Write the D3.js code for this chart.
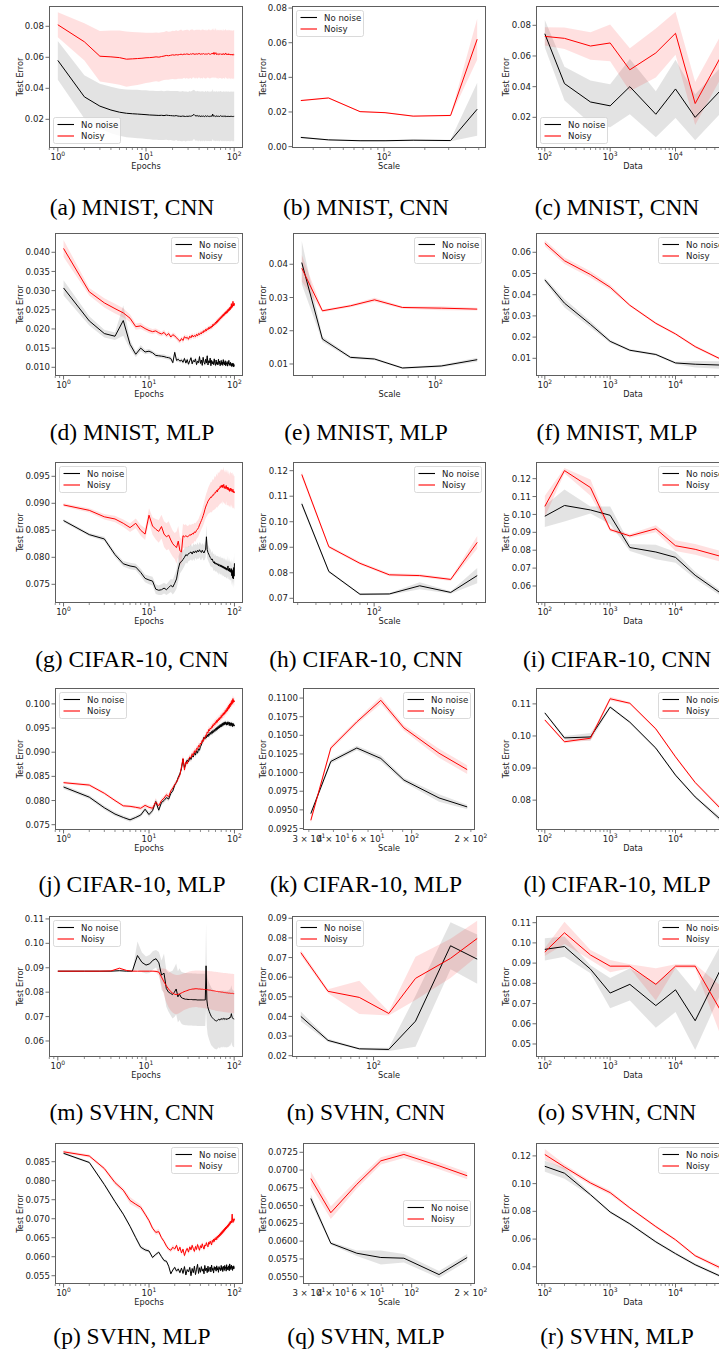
<!DOCTYPE html>
<html><head><meta charset="utf-8">
<script src="https://cdn.jsdelivr.net/npm/d3@7"></script>
<style>body{margin:0;background:#fff}svg{display:block}</style>
</head><body>
<svg id="fig" width="719" height="1357"></svg>
<script>
// ---------- x values ----------
const EPOCHS = d3.range(1, 101);
const DATA_SIZES = [100, 200, 500, 1000, 2000, 5000, 10000, 20000, 50000];
const SCALE_MNIST_CNN = [24.3, 38.9, 66.5, 101.7, 164, 310, 487];
const SCALE_CNN = [32, 49, 80, 127, 205, 334, 507];
const SCALE_CNN_SVHN = [32, 49, 80, 127, 193, 334, 507];
const SCALE_MNIST_MLP = [17.4, 22.8, 32.9, 45.1, 65.0, 108, 173];
const SCALE_MLP = [30.7, 38.8, 52.6, 69.7, 91.3, 137.8, 191.6];

// ---------- (a) MNIST CNN, epochs ----------
const aNoisy = [.0810,.0700,.0607,.0603,.0598,.0588,.0590,.0592,.0594,.0597,
.0598,.0600,.0603,.0601,.0605,.0608,.0612,.0610,.0613,.0616,
.0614,.0617,.0615,.0618,.0620,.0617,.0621,.0619,.0622,.0620,
.0618,.0622,.0620,.0624,.0621,.0619,.0623,.0620,.0622,.0625,
.0621,.0619,.0623,.0621,.0624,.0620,.0622,.0618,.0623,.0621,
.0625,.0620,.0622,.0619,.0624,.0621,.0628,.0620,.0632,.0619,
.0623,.0630,.0618,.0622,.0620,.0617,.0624,.0621,.0619,.0623,
.0618,.0621,.0616,.0620,.0625,.0619,.0621,.0617,.0622,.0628,
.0619,.0621,.0616,.0620,.0618,.0623,.0615,.0619,.0621,.0617,
.0620,.0614,.0618,.0621,.0616,.0619,.0613,.0617,.0620,.0618];
const aNoisyStd = [.0080,.0120,.0163,.0170,.0175,.0178,.0174,.0170,.0166,.0162,
.0160,.0158,.0157,.0158,.0156,.0155,.0157,.0155,.0154,.0156,
.0155,.0158,.0154,.0156,.0159,.0155,.0153,.0157,.0155,.0158,
.0154,.0156,.0160,.0155,.0152,.0157,.0154,.0158,.0155,.0153,
.0157,.0154,.0156,.0159,.0153,.0155,.0158,.0154,.0156,.0152,
.0157,.0155,.0159,.0154,.0156,.0153,.0158,.0155,.0157,.0154,
.0156,.0159,.0153,.0157,.0155,.0158,.0154,.0156,.0153,.0157,
.0155,.0158,.0154,.0156,.0159,.0153,.0157,.0155,.0158,.0154,
.0156,.0153,.0157,.0155,.0159,.0154,.0156,.0158,.0153,.0157,
.0155,.0158,.0154,.0156,.0153,.0157,.0155,.0159,.0154,.0156];
const aClean = [.0580,.0345,.0285,.0260,.0246,.0239,.0236,.0234,.0232,.0230,
.0228,.0227,.0226,.0225,.0226,.0224,.0227,.0225,.0224,.0223,
.0222,.0224,.0221,.0220,.0219,.0221,.0220,.0218,.0220,.0219,
.0221,.0220,.0222,.0226,.0232,.0224,.0221,.0225,.0219,.0223,
.0220,.0218,.0222,.0219,.0221,.0217,.0223,.0220,.0218,.0222,
.0219,.0221,.0217,.0220,.0222,.0218,.0234,.0221,.0219,.0222,
.0218,.0220,.0223,.0217,.0221,.0219,.0222,.0218,.0220,.0224,
.0219,.0221,.0217,.0220,.0223,.0218,.0221,.0219,.0216,.0222,
.0220,.0218,.0221,.0217,.0222,.0219,.0220,.0216,.0221,.0218,
.0220,.0217,.0222,.0219,.0218,.0221,.0217,.0220,.0218,.0219];
const aCleanStd = [.0125,.0140,.0145,.0150,.0152,.0154,.0155,.0156,.0156,.0157,
.0157,.0158,.0157,.0158,.0159,.0157,.0158,.0160,.0158,.0159,
.0160,.0158,.0161,.0159,.0160,.0162,.0159,.0161,.0160,.0158,
.0161,.0159,.0160,.0162,.0158,.0161,.0159,.0160,.0162,.0158,
.0160,.0161,.0159,.0162,.0158,.0160,.0161,.0159,.0160,.0162,
.0159,.0161,.0158,.0160,.0162,.0159,.0161,.0160,.0158,.0161,
.0160,.0159,.0162,.0158,.0160,.0161,.0159,.0160,.0162,.0158,
.0161,.0159,.0160,.0158,.0162,.0160,.0159,.0161,.0158,.0160,
.0159,.0161,.0160,.0158,.0162,.0159,.0160,.0161,.0158,.0160,
.0161,.0159,.0160,.0158,.0161,.0159,.0160,.0162,.0158,.0160];

// ---------- (b) MNIST CNN, scale ----------
const bClean = [.0053,.0039,.0034,.0034,.0037,.0035,.0216];
const bCleanStd = [.0005,.0004,.0004,.0004,.0004,.0004,.0153];
const bNoisy = [.0266,.0281,.0202,.0196,.0176,.0180,.0620];
const bNoisyStd = [.0004,.0004,.0004,.0004,.0004,.0004,.0118];

// ---------- (c) MNIST CNN, data ----------
const cClean = [.0745,.0420,.0300,.0275,.0400,.0220,.0385,.0200,.0380];
const cCleanStd = [.0090,.0110,.0140,.0140,.0180,.0150,.0190,.0150,.0150];
const cNoisy = [.0728,.0715,.0665,.0685,.0510,.0620,.0748,.0290,.0600];
const cNoisyStd = [.0060,.0070,.0090,.0120,.0140,.0160,.0140,.0140,.0140];

// ---------- (d) MNIST MLP, epochs ----------
const dNoisy = [.0410,.0297,.0268,.0253,.0242,.0228,.0206,.0208,.0201,.0196,
.0193,.0195,.0190,.0187,.0191,.0183,.0188,.0179,.0185,.0182,
.0177,.0172,.0168,.0175,.0170,.0180,.0176,.0178,.0173,.0181,
.0177,.0184,.0179,.0183,.0180,.0186,.0182,.0188,.0185,.0190,
.0187,.0193,.0190,.0196,.0193,.0199,.0195,.0201,.0198,.0204,
.0200,.0206,.0202,.0208,.0205,.0212,.0208,.0214,.0211,.0218,
.0214,.0221,.0217,.0224,.0220,.0227,.0223,.0230,.0226,.0233,
.0229,.0236,.0232,.0239,.0234,.0241,.0237,.0244,.0239,.0246,
.0241,.0248,.0243,.0251,.0246,.0253,.0248,.0256,.0250,.0258,
.0253,.0266,.0255,.0262,.0258,.0272,.0260,.0266,.0261,.0267];
const dNoisyStd = [.0022,.0010,.0012,.0013,.0012,.0010,.0008,.0008,.0007,.0007,
.0007,.0006,.0007,.0006,.0007,.0006,.0007,.0006,.0006,.0007,
.0006,.0007,.0006,.0006,.0007,.0006,.0006,.0007,.0006,.0006,
.0007,.0006,.0006,.0007,.0006,.0006,.0007,.0006,.0006,.0007,
.0006,.0006,.0007,.0006,.0006,.0007,.0006,.0006,.0007,.0006,
.0006,.0007,.0006,.0006,.0007,.0006,.0006,.0007,.0006,.0006,
.0007,.0006,.0006,.0007,.0006,.0006,.0007,.0006,.0006,.0007,
.0006,.0006,.0007,.0006,.0006,.0007,.0006,.0006,.0007,.0006,
.0006,.0007,.0006,.0006,.0007,.0006,.0006,.0007,.0006,.0006,
.0007,.0006,.0006,.0007,.0006,.0006,.0007,.0006,.0006,.0007];
const dClean = [.0307,.0221,.0188,.0181,.0222,.0160,.0134,.0150,.0140,.0142,
.0138,.0131,.0130,.0129,.0128,.0126,.0125,.0123,.0112,.0139,
.0118,.0121,.0116,.0119,.0113,.0123,.0111,.0120,.0108,.0117,
.0125,.0109,.0118,.0114,.0122,.0107,.0116,.0112,.0128,.0110,
.0119,.0105,.0126,.0113,.0108,.0121,.0111,.0130,.0106,.0117,
.0112,.0124,.0104,.0118,.0109,.0115,.0107,.0122,.0110,.0105,
.0119,.0108,.0113,.0106,.0121,.0109,.0116,.0104,.0112,.0118,
.0107,.0114,.0105,.0120,.0109,.0113,.0106,.0117,.0104,.0111,
.0108,.0115,.0103,.0112,.0109,.0118,.0105,.0110,.0107,.0113,
.0104,.0109,.0102,.0111,.0106,.0103,.0110,.0101,.0107,.0105];
const dCleanStd = [.0020,.0012,.0010,.0010,.0040,.0012,.0008,.0008,.0006,.0006,
.0005,.0006,.0005,.0005,.0006,.0005,.0005,.0006,.0005,.0007,
.0005,.0006,.0005,.0005,.0006,.0005,.0005,.0006,.0005,.0005,
.0006,.0005,.0005,.0006,.0005,.0005,.0006,.0005,.0007,.0005,
.0006,.0005,.0005,.0006,.0005,.0005,.0006,.0007,.0005,.0005,
.0006,.0005,.0005,.0006,.0005,.0005,.0006,.0005,.0005,.0006,
.0005,.0005,.0006,.0005,.0007,.0005,.0006,.0005,.0005,.0006,
.0005,.0005,.0006,.0005,.0005,.0006,.0005,.0005,.0006,.0005,
.0005,.0006,.0005,.0005,.0006,.0005,.0005,.0006,.0005,.0005,
.0006,.0005,.0005,.0006,.0005,.0005,.0006,.0005,.0005,.0006];

// ---------- (e) MNIST MLP, scale ----------
const eClean = [.0405,.0175,.0120,.0115,.0088,.0094,.0113];
const eCleanStd = [.0065,.0008,.0004,.0004,.0003,.0004,.0006];
const eNoisy = [.0388,.0260,.0275,.0293,.0270,.0268,.0265];
const eNoisyStd = [.0040,.0004,.0004,.0006,.0004,.0006,.0004];

// ---------- (f) MNIST MLP, data ----------
const fClean = [.0470,.0360,.0260,.0180,.0138,.0118,.0078,.0072,.0068];
const fCleanStd = [.0010,.0020,.0015,.0008,.0006,.0006,.0006,.0015,.0018];
const fNoisy = [.0643,.0560,.0495,.0435,.0350,.0265,.0215,.0155,.0095];
const fNoisyStd = [.0015,.0015,.0015,.0012,.0006,.0006,.0006,.0006,.0006];

// ---------- (g) CIFAR-10 CNN, epochs ----------
const gNoisy = [.0897,.0887,.0875,.0871,.0863,.0855,.0863,.0850,.0843,.0878,
.0858,.0852,.0848,.0857,.0843,.0838,.0841,.0832,.0825,.0821,
.0818,.0830,.0812,.0810,.0840,.0838,.0840,.0838,.0839,.0842,
.0841,.0844,.0843,.0847,.0846,.0850,.0852,.0855,.0860,.0864,
.0868,.0872,.0877,.0882,.0888,.0893,.0897,.0900,.0904,.0906,
.0908,.0910,.0912,.0911,.0914,.0916,.0915,.0918,.0920,.0919,
.0922,.0924,.0921,.0926,.0925,.0928,.0927,.0931,.0929,.0933,
.0930,.0934,.0929,.0932,.0935,.0928,.0931,.0927,.0930,.0933,
.0928,.0926,.0930,.0925,.0929,.0924,.0927,.0922,.0926,.0928,
.0923,.0927,.0925,.0921,.0924,.0926,.0920,.0923,.0921,.0919];
const gNoisyStd = [.0003,.0004,.0005,.0006,.0007,.0008,.0009,.0010,.0011,.0013,
.0016,.0019,.0021,.0022,.0024,.0025,.0026,.0025,.0024,.0024,
.0030,.0028,.0025,.0024,.0022,.0022,.0021,.0020,.0020,.0019,
.0019,.0018,.0018,.0017,.0017,.0016,.0016,.0016,.0016,.0016,
.0016,.0017,.0018,.0019,.0020,.0021,.0022,.0023,.0024,.0025,
.0026,.0027,.0028,.0028,.0029,.0029,.0028,.0030,.0031,.0029,
.0030,.0031,.0029,.0032,.0030,.0031,.0029,.0032,.0030,.0031,
.0031,.0029,.0032,.0030,.0033,.0029,.0031,.0030,.0032,.0029,
.0031,.0030,.0033,.0029,.0032,.0030,.0031,.0029,.0033,.0030,
.0032,.0029,.0031,.0030,.0033,.0031,.0029,.0032,.0030,.0031];
const gClean = [.0868,.0842,.0834,.0805,.0788,.0784,.0782,.0772,.0761,.0758,
.0756,.0741,.0739,.0740,.0743,.0740,.0744,.0748,.0745,.0752,
.0760,.0778,.0790,.0792,.0796,.0800,.0805,.0803,.0807,.0808,
.0810,.0806,.0811,.0808,.0812,.0809,.0813,.0810,.0814,.0811,
.0809,.0813,.0810,.0808,.0812,.0815,.0838,.0814,.0809,.0806,
.0803,.0800,.0798,.0795,.0797,.0793,.0790,.0792,.0788,.0790,
.0787,.0789,.0786,.0788,.0784,.0787,.0785,.0783,.0786,.0782,
.0785,.0781,.0784,.0780,.0783,.0779,.0782,.0778,.0781,.0777,
.0780,.0776,.0779,.0784,.0775,.0778,.0774,.0780,.0773,.0777,
.0772,.0779,.0766,.0775,.0762,.0777,.0760,.0781,.0765,.0789];
const gCleanStd = [.0003,.0003,.0004,.0005,.0005,.0006,.0006,.0007,.0007,.0008,
.0008,.0009,.0009,.0010,.0010,.0010,.0011,.0012,.0014,.0016,
.0018,.0022,.0020,.0018,.0017,.0016,.0015,.0015,.0014,.0014,
.0014,.0013,.0014,.0015,.0013,.0014,.0015,.0013,.0014,.0016,
.0014,.0013,.0015,.0014,.0016,.0015,.0022,.0016,.0014,.0015,
.0014,.0016,.0015,.0013,.0015,.0014,.0016,.0015,.0014,.0016,
.0015,.0014,.0016,.0015,.0017,.0014,.0016,.0015,.0017,.0016,
.0015,.0017,.0016,.0015,.0017,.0016,.0018,.0015,.0017,.0016,
.0018,.0016,.0017,.0019,.0016,.0018,.0017,.0019,.0016,.0018,
.0017,.0019,.0018,.0020,.0017,.0019,.0018,.0021,.0019,.0022];

// ---------- (h) CIFAR-10 CNN, scale ----------
const hClean = [.1070,.0805,.0716,.0717,.0749,.0723,.0789];
const hCleanStd = [.0010,.0005,.0004,.0004,.0014,.0005,.0030];
const hNoisy = [.1185,.0902,.0837,.0792,.0789,.0774,.0919];
const hNoisyStd = [.0012,.0006,.0006,.0006,.0006,.0006,.0025];

// ---------- (i) CIFAR-10 CNN, data ----------
const iClean = [.0990,.1050,.1025,.0995,.0815,.0790,.0760,.0660,.0558];
const iCleanStd = [.0060,.0090,.0020,.0050,.0020,.0040,.0030,.0020,.0015];
const iNoisy = [.1045,.1245,.1150,.0915,.0880,.0920,.0825,.0805,.0765];
const iNoisyStd = [.0060,.0015,.0045,.0010,.0010,.0020,.0030,.0030,.0030];

// ---------- (j) CIFAR-10 MLP, epochs ----------
const jNoisy = [.0837,.0832,.0815,.0800,.0789,.0788,.0786,.0784,.0790,.0786,
.0784,.0797,.0789,.0800,.0805,.0812,.0808,.0820,.0826,.0833,
.0838,.0846,.0853,.0870,.0887,.0863,.0880,.0876,.0885,.0890,
.0888,.0897,.0893,.0903,.0899,.0908,.0906,.0914,.0911,.0919,
.0917,.0925,.0922,.0930,.0928,.0935,.0934,.0942,.0940,.0947,
.0944,.0950,.0948,.0953,.0951,.0957,.0954,.0960,.0957,.0963,
.0960,.0966,.0962,.0968,.0965,.0971,.0967,.0973,.0970,.0976,
.0972,.0978,.0975,.0981,.0977,.0983,.0979,.0986,.0982,.0988,
.0984,.0991,.0986,.0994,.0989,.0997,.0991,.1000,.0994,.1002,
.0997,.1005,.0999,.1008,.1001,.1011,.1003,.1008,.1004,.1006];
const jNoisyStd = [.0003,.0003,.0003,.0003,.0003,.0003,.0003,.0004,.0004,.0004,
.0005,.0008,.0005,.0006,.0005,.0005,.0006,.0005,.0005,.0006,
.0005,.0006,.0006,.0005,.0008,.0006,.0006,.0005,.0006,.0006,
.0006,.0007,.0006,.0006,.0007,.0006,.0007,.0006,.0007,.0006,
.0007,.0006,.0007,.0007,.0006,.0007,.0007,.0006,.0007,.0007,
.0007,.0006,.0007,.0007,.0008,.0007,.0007,.0008,.0007,.0007,
.0008,.0007,.0007,.0008,.0007,.0008,.0007,.0008,.0008,.0007,
.0008,.0007,.0008,.0008,.0007,.0008,.0008,.0007,.0008,.0008,
.0008,.0007,.0008,.0009,.0008,.0008,.0007,.0009,.0008,.0008,
.0009,.0008,.0008,.0009,.0008,.0009,.0008,.0009,.0008,.0009];
const jClean = [.0828,.0807,.0785,.0772,.0765,.0760,.0765,.0770,.0782,.0771,
.0779,.0798,.0780,.0796,.0800,.0806,.0803,.0815,.0820,.0832,
.0838,.0848,.0855,.0866,.0886,.0868,.0876,.0884,.0880,.0889,
.0885,.0893,.0890,.0899,.0894,.0903,.0898,.0907,.0904,.0912,
.0915,.0922,.0926,.0931,.0927,.0933,.0930,.0936,.0932,.0938,
.0935,.0941,.0937,.0943,.0939,.0945,.0941,.0947,.0943,.0949,
.0945,.0951,.0947,.0953,.0949,.0955,.0950,.0957,.0952,.0958,
.0953,.0960,.0955,.0961,.0956,.0962,.0957,.0963,.0958,.0961,
.0956,.0962,.0957,.0963,.0958,.0961,.0955,.0962,.0957,.0960,
.0954,.0961,.0956,.0959,.0953,.0960,.0955,.0958,.0954,.0956];
const jCleanStd = [.0004,.0004,.0004,.0004,.0004,.0004,.0004,.0004,.0005,.0005,
.0005,.0005,.0005,.0005,.0005,.0005,.0005,.0005,.0005,.0005,
.0004,.0005,.0006,.0005,.0004,.0005,.0006,.0005,.0004,.0005,
.0006,.0005,.0004,.0005,.0006,.0005,.0004,.0005,.0006,.0005,
.0004,.0005,.0006,.0005,.0004,.0005,.0006,.0005,.0004,.0005,
.0006,.0005,.0004,.0005,.0006,.0005,.0004,.0005,.0006,.0005,
.0004,.0005,.0006,.0005,.0004,.0005,.0006,.0005,.0004,.0005,
.0006,.0005,.0004,.0005,.0006,.0005,.0004,.0005,.0006,.0005,
.0004,.0005,.0006,.0005,.0004,.0005,.0006,.0005,.0004,.0005,
.0006,.0005,.0004,.0005,.0006,.0005,.0004,.0005,.0006,.0005];

// ---------- (k) CIFAR-10 MLP, scale ----------
const kClean = [.0945,.1015,.1033,.1019,.0990,.0966,.0954];
const kCleanStd = [.0003,.0003,.0003,.0004,.0003,.0005,.0003];
const kNoisy = [.0936,.1033,.1068,.1097,.1060,.1026,.1004];
const kNoisyStd = [.0004,.0003,.0003,.0005,.0004,.0006,.0006];

// ---------- (l) CIFAR-10 MLP, data ----------
const lClean = [.1072,.0994,.0997,.1090,.1043,.0962,.0878,.0810,.0738];
const lCleanStd = [.0003,.0006,.0012,.0004,.0004,.0004,.0004,.0004,.0008];
const lNoisy = [.1050,.0982,.0993,.1116,.1102,.1022,.0935,.0855,.0772];
const lNoisyStd = [.0003,.0005,.0006,.0006,.0004,.0004,.0004,.0004,.0006];

// ---------- (m) SVHN CNN, epochs ----------
const mNoisy = [.0886,.0886,.0886,.0887,.0898,.0889,.0886,.0886,.0886,.0886,
.0886,.0886,.0885,.0882,.0862,.0842,.0826,.0813,.0803,.0796,
.0792,.0790,.0791,.0793,.0796,.0799,.0802,.0804,.0806,.0808,
.0810,.0811,.0812,.0813,.0813,.0814,.0814,.0814,.0813,.0813,
.0813,.0812,.0812,.0812,.0811,.0811,.0811,.0810,.0810,.0810,
.0809,.0809,.0808,.0808,.0807,.0807,.0806,.0806,.0805,.0805,
.0804,.0804,.0803,.0803,.0803,.0802,.0802,.0802,.0801,.0801,
.0801,.0800,.0800,.0800,.0799,.0799,.0799,.0798,.0798,.0798,
.0798,.0797,.0797,.0797,.0797,.0796,.0796,.0796,.0796,.0796,
.0795,.0795,.0795,.0795,.0795,.0795,.0794,.0794,.0794,.0794];
const mNoisyStd = [.0002,.0002,.0002,.0002,.0004,.0003,.0002,.0002,.0002,.0002,
.0002,.0002,.0005,.0015,.0035,.0055,.0068,.0075,.0078,.0079,
.0080,.0080,.0079,.0078,.0077,.0076,.0075,.0075,.0075,.0075,
.0075,.0075,.0075,.0075,.0075,.0075,.0075,.0075,.0076,.0076,
.0076,.0076,.0076,.0077,.0077,.0077,.0077,.0077,.0078,.0078,
.0078,.0078,.0078,.0078,.0079,.0079,.0079,.0079,.0079,.0079,
.0080,.0080,.0080,.0080,.0080,.0080,.0080,.0080,.0080,.0080,
.0080,.0080,.0080,.0080,.0080,.0080,.0080,.0080,.0080,.0080,
.0080,.0080,.0080,.0080,.0080,.0080,.0080,.0080,.0080,.0080,
.0080,.0080,.0080,.0080,.0080,.0080,.0080,.0080,.0080,.0080];
const mClean = [.0886,.0886,.0886,.0886,.0888,.0886,.0886,.0950,.0922,.0911,
.0916,.0931,.0937,.0920,.0870,.0878,.0815,.0800,.0795,.0790,
.0800,.0813,.0781,.0792,.0779,.0775,.0773,.0771,.0771,.0770,
.0770,.0770,.0770,.0769,.0769,.0769,.0769,.0768,.0768,.0768,
.0768,.0768,.0768,.0768,.0768,.0768,.0768,.0908,.0768,.0742,
.0731,.0722,.0714,.0707,.0701,.0697,.0694,.0691,.0688,.0686,
.0684,.0683,.0682,.0683,.0685,.0688,.0690,.0687,.0685,.0689,
.0692,.0690,.0688,.0691,.0693,.0690,.0688,.0692,.0689,.0691,
.0690,.0688,.0692,.0689,.0691,.0693,.0690,.0694,.0697,.0695,
.0700,.0705,.0712,.0702,.0697,.0694,.0692,.0690,.0691,.0690];
const mCleanStd = [.0001,.0001,.0001,.0001,.0003,.0001,.0001,.0058,.0040,.0035,
.0037,.0038,.0036,.0045,.0060,.0080,.0075,.0080,.0090,.0098,
.0102,.0104,.0105,.0106,.0106,.0107,.0107,.0107,.0107,.0107,
.0107,.0107,.0107,.0107,.0107,.0107,.0107,.0107,.0107,.0107,
.0107,.0107,.0107,.0107,.0107,.0107,.0107,.0175,.0112,.0115,
.0116,.0117,.0117,.0118,.0118,.0118,.0118,.0118,.0118,.0118,
.0117,.0117,.0117,.0116,.0116,.0116,.0116,.0116,.0116,.0116,
.0116,.0116,.0116,.0116,.0116,.0116,.0116,.0116,.0116,.0116,
.0116,.0116,.0116,.0116,.0116,.0116,.0116,.0116,.0116,.0116,
.0116,.0116,.0116,.0116,.0116,.0116,.0116,.0116,.0116,.0116];

// ---------- (n) SVHN CNN, scale ----------
const nClean = [.0400,.0278,.0235,.0232,.0376,.0760,.0692];
const nCleanStd = [.0025,.0008,.0005,.0008,.0130,.0120,.0125];
const nNoisy = [.0725,.0528,.0497,.0415,.0594,.0696,.0797];
const nNoisyStd = [.0015,.0010,.0085,.0010,.0110,.0100,.0090];

// ---------- (o) SVHN CNN, data ----------
const oClean = [.0968,.0982,.0870,.0752,.0795,.0690,.0768,.0615,.0875];
const oCleanStd = [.0055,.0050,.0020,.0075,.0080,.0110,.0110,.0145,.0120];
const oNoisy = [.0955,.1050,.0940,.0885,.0885,.0795,.0885,.0885,.0660];
const oNoisyStd = [.0020,.0055,.0025,.0030,.0010,.0080,.0010,.0010,.0125];

// ---------- (p) SVHN MLP, epochs ----------
const pNoisy = [.0876,.0865,.0832,.0795,.0775,.0748,.0738,.0730,.0712,.0695,
.0675,.0664,.0666,.0650,.0640,.0628,.0620,.0617,.0625,.0620,
.0630,.0615,.0625,.0610,.0620,.0603,.0615,.0622,.0612,.0626,
.0618,.0630,.0621,.0614,.0627,.0619,.0632,.0624,.0617,.0629,
.0623,.0634,.0626,.0620,.0631,.0628,.0637,.0630,.0626,.0638,
.0633,.0641,.0636,.0631,.0643,.0638,.0646,.0640,.0648,.0644,
.0651,.0645,.0654,.0649,.0657,.0652,.0660,.0655,.0663,.0658,
.0666,.0661,.0669,.0664,.0672,.0667,.0675,.0670,.0678,.0673,
.0680,.0676,.0683,.0678,.0686,.0681,.0689,.0684,.0692,.0687,
.0694,.0689,.0697,.0712,.0695,.0690,.0698,.0693,.0700,.0696];
const pNoisyStd = [.0004,.0004,.0005,.0006,.0006,.0009,.0008,.0007,.0006,.0006,
.0005,.0006,.0007,.0005,.0006,.0006,.0005,.0006,.0007,.0005,
.0006,.0005,.0007,.0006,.0005,.0006,.0007,.0005,.0006,.0005,
.0007,.0006,.0005,.0006,.0007,.0005,.0006,.0006,.0007,.0005,
.0006,.0007,.0005,.0006,.0006,.0007,.0005,.0006,.0007,.0006,
.0005,.0006,.0007,.0006,.0005,.0007,.0006,.0006,.0007,.0005,
.0006,.0007,.0006,.0005,.0007,.0006,.0006,.0007,.0005,.0006,
.0007,.0006,.0006,.0007,.0005,.0006,.0007,.0006,.0006,.0007,
.0005,.0006,.0007,.0006,.0006,.0007,.0006,.0005,.0007,.0006,
.0006,.0007,.0006,.0008,.0007,.0006,.0007,.0006,.0007,.0006];
const pClean = [.0872,.0848,.0790,.0745,.0712,.0680,.0650,.0625,.0618,.0615,
.0598,.0606,.0612,.0600,.0590,.0588,.0575,.0555,.0565,.0572,
.0562,.0568,.0558,.0570,.0556,.0574,.0552,.0566,.0560,.0572,
.0550,.0569,.0558,.0575,.0553,.0567,.0580,.0556,.0571,.0559,
.0574,.0562,.0568,.0555,.0577,.0563,.0570,.0558,.0575,.0561,
.0567,.0573,.0560,.0578,.0564,.0570,.0557,.0574,.0566,.0572,
.0562,.0576,.0565,.0571,.0559,.0574,.0567,.0570,.0563,.0577,
.0566,.0572,.0561,.0575,.0568,.0564,.0577,.0569,.0573,.0562,
.0579,.0567,.0572,.0565,.0576,.0570,.0563,.0581,.0568,.0574,
.0566,.0578,.0570,.0575,.0564,.0572,.0568,.0576,.0569,.0571];
const pCleanStd = [.0003,.0003,.0004,.0004,.0004,.0004,.0005,.0005,.0005,.0004,
.0004,.0004,.0004,.0004,.0004,.0004,.0004,.0004,.0004,.0004,
.0004,.0005,.0004,.0003,.0004,.0005,.0004,.0004,.0003,.0004,
.0005,.0004,.0004,.0003,.0004,.0005,.0004,.0004,.0003,.0004,
.0005,.0004,.0004,.0003,.0004,.0005,.0004,.0004,.0003,.0004,
.0005,.0004,.0004,.0003,.0004,.0005,.0004,.0004,.0003,.0004,
.0005,.0004,.0004,.0003,.0004,.0005,.0004,.0004,.0003,.0004,
.0005,.0004,.0004,.0003,.0004,.0005,.0004,.0004,.0003,.0004,
.0005,.0004,.0004,.0003,.0004,.0005,.0004,.0004,.0003,.0004,
.0005,.0004,.0004,.0003,.0004,.0005,.0004,.0004,.0003,.0004];

// ---------- (q) SVHN MLP, scale ----------
const qClean = [.0660,.0597,.0583,.0577,.0576,.0553,.0577];
const qCleanStd = [.0006,.0002,.0004,.0010,.0006,.0005,.0005];
const qNoisy = [.0688,.0640,.0680,.0713,.0722,.0706,.0692];
const qNoisyStd = [.0010,.0009,.0006,.0005,.0005,.0005,.0005];

// ---------- (r) SVHN MLP, data ----------
const rClean = [.1125,.1075,.0920,.0795,.0710,.0580,.0495,.0415,.0330];
const rCleanStd = [.0040,.0040,.0010,.0010,.0010,.0010,.0010,.0010,.0010];
const rNoisy = [.1210,.1120,.1005,.0935,.0825,.0690,.0595,.0480,.0390];
const rNoisyStd = [.0040,.0020,.0015,.0015,.0010,.0010,.0010,.0010,.0015];

// ---------- y tick values ----------
const T_A = [.02,.04,.06,.08], T_B = [0,.02,.04,.06,.08], T_C = [.02,.04,.06,.08];
const T_D = [.010,.015,.020,.025,.030,.035,.040], T_E = [.01,.02,.03,.04], T_F = [.01,.02,.03,.04,.05,.06];
const T_G = [.075,.080,.085,.090,.095], T_H = [.07,.08,.09,.10,.11,.12], T_I = [.06,.07,.08,.09,.10,.11,.12];
const T_J = [.075,.080,.085,.090,.095,.100], T_K = [.0925,.0950,.0975,.1000,.1025,.1050,.1075,.1100], T_L = [.08,.09,.10,.11];
const T_M = [.06,.07,.08,.09,.10,.11], T_N = [.02,.03,.04,.05,.06,.07,.08,.09], T_O = [.05,.06,.07,.08,.09,.10,.11];
const T_P = [.055,.060,.065,.070,.075,.080,.085], T_Q = [.0550,.0575,.0600,.0625,.0650,.0675,.0700,.0725], T_R = [.04,.06,.08,.10,.12];

const LEGEND_LABELS = ["No noise", "Noisy"];

// ---------- panel grid ----------
const ROW_TOP = [6, 233, 462, 688, 916, 1143];
const ROW_BOTTOM = [148, 376, 603, 830, 1057, 1284];
const COL_LEFT = [[49,292,536],[55,293,536],[55,293,536],[55,303,536],[49,292,536],[55,303,536]];
const COL_RIGHT = [[243,486,730],[243,486,730],[243,486,730],[243,475,730],[243,486,730],[243,475,730]];
const YLABEL_X = [20, 263, 506];
const CAPTION_X = [132, 366, 617];
const CAPTION_Y = [215, 440, 667, 892, 1120, 1344];

const panels = [
  {cap:"(a) MNIST, CNN", xl:"Epochs", xs:EPOCHS, c:aClean, cs:aCleanStd, n:aNoisy, ns:aNoisyStd, yd:[.0015,.0931], yt:T_A, dg:2, lg:"ll"},
  {cap:"(b) MNIST, CNN", xl:"Scale", xs:SCALE_MNIST_CNN, c:bClean, cs:bCleanStd, n:bNoisy, ns:bNoisyStd, yd:[-.0008,.0812], yt:T_B, dg:2, lg:"ul"},
  {cap:"(c) MNIST, CNN", xl:"Data", xs:DATA_SIZES, c:cClean, cs:cCleanStd, n:cNoisy, ns:cNoisyStd, yd:[0,.0926], yt:T_C, dg:2, lg:"ll"},
  {cap:"(d) MNIST, MLP", xl:"Epochs", xs:EPOCHS, c:dClean, cs:dCleanStd, n:dNoisy, ns:dNoisyStd, yd:[.00773,.04503], yt:T_D, dg:3, lg:"ur"},
  {cap:"(e) MNIST, MLP", xl:"Scale", xs:SCALE_MNIST_MLP, c:eClean, cs:eCleanStd, n:eNoisy, ns:eNoisyStd, yd:[.00639,.0494], yt:T_E, dg:2, lg:"ur"},
  {cap:"(f) MNIST, MLP", xl:"Data", xs:DATA_SIZES, c:fClean, cs:fCleanStd, n:fNoisy, ns:fNoisyStd, yd:[.00165,.0691], yt:T_F, dg:2, lg:"ur"},
  {cap:"(g) CIFAR-10, CNN", xl:"Epochs", xs:EPOCHS, c:gClean, cs:gCleanStd, n:gNoisy, ns:gNoisyStd, yd:[.07154,.09765], yt:T_G, dg:3, lg:"ul"},
  {cap:"(h) CIFAR-10, CNN", xl:"Scale", xs:SCALE_CNN, c:hClean, cs:hCleanStd, n:hNoisy, ns:hNoisyStd, yd:[.06816,.1234], yt:T_H, dg:2, lg:"ur"},
  {cap:"(i) CIFAR-10, CNN", xl:"Data", xs:DATA_SIZES, c:iClean, cs:iCleanStd, n:iNoisy, ns:iNoisyStd, yd:[.0505,.1293], yt:T_I, dg:2, lg:"ur"},
  {cap:"(j) CIFAR-10, MLP", xl:"Epochs", xs:EPOCHS, c:jClean, cs:jCleanStd, n:jNoisy, ns:jNoisyStd, yd:[.0739,.10329], yt:T_J, dg:3, lg:"ul"},
  {cap:"(k) CIFAR-10, MLP", xl:"Scale", xs:SCALE_MLP, c:kClean, cs:kCleanStd, n:kNoisy, ns:kNoisyStd, yd:[.0923,.11135], yt:T_K, dg:4, lg:"ur", minorLabels:[2,3,4,6]},
  {cap:"(l) CIFAR-10, MLP", xl:"Data", xs:DATA_SIZES, c:lClean, cs:lCleanStd, n:lNoisy, ns:lNoisyStd, yd:[.0707,.11495], yt:T_L, dg:2, lg:"ur"},
  {cap:"(m) SVHN, CNN", xl:"Epochs", xs:EPOCHS, c:mClean, cs:mCleanStd, n:mNoisy, ns:mNoisyStd, yd:[.05344,.1112], yt:T_M, dg:2, lg:"ul"},
  {cap:"(n) SVHN, CNN", xl:"Scale", xs:SCALE_CNN_SVHN, c:nClean, cs:nCleanStd, n:nNoisy, ns:nNoisyStd, yd:[.01934,.09117], yt:T_N, dg:2, lg:"ul"},
  {cap:"(o) SVHN, CNN", xl:"Data", xs:DATA_SIZES, c:oClean, cs:oCleanStd, n:oNoisy, ns:oNoisyStd, yd:[.04357,.1133], yt:T_O, dg:2, lg:"ur"},
  {cap:"(p) SVHN, MLP", xl:"Epochs", xs:EPOCHS, c:pClean, cs:pCleanStd, n:pNoisy, ns:pNoisyStd, yd:[.05282,.08992], yt:T_P, dg:3, lg:"ur"},
  {cap:"(q) SVHN, MLP", xl:"Scale", xs:SCALE_MLP, c:qClean, cs:qCleanStd, n:qNoisy, ns:qNoisyStd, yd:[.05397,.07381], yt:T_Q, dg:4, lg:"cr", minorLabels:[2,3,4,6]},
  {cap:"(r) SVHN, MLP", xl:"Data", xs:DATA_SIZES, c:rClean, cs:rCleanStd, n:rNoisy, ns:rNoisyStd, yd:[.0276,.1293], yt:T_R, dg:2, lg:"ur"}
];

const FONT = "DejaVu Sans, Verdana, sans-serif";
const SPINE = "#5e5e5e";
const TXT = "#222";
const TICK_FS = 8.6;
const svg = d3.select("#fig");

// log-axis domain padded by 5% of the data span on each side
function paddedLogDomain(xs) {
  const lo = Math.log10(d3.min(xs)), hi = Math.log10(d3.max(xs)), pad = (hi - lo) * 0.05;
  return [Math.pow(10, lo - pad), Math.pow(10, hi + pad)];
}

function logTicks(domain) {
  const out = [];
  for (let k = Math.floor(Math.log10(domain[0])); k <= Math.ceil(Math.log10(domain[1])); k++) {
    for (let m = 1; m <= 9; m++) {
      const v = m * Math.pow(10, k);
      if (v >= domain[0] && v <= domain[1]) out.push({v, m, k});
    }
  }
  return out;
}

function sciLabel(sel, m, k, fs) {
  sel.append("tspan").text(m === 1 ? "10" : m + " \u00d7 10");
  sel.append("tspan").attr("dy", -fs * 0.42).attr("font-size", fs * 0.7).text(k);
}

panels.forEach((p, i) => {
  const row = Math.floor(i / 3), col = i % 3;
  const L = COL_LEFT[row][col], R = COL_RIGHT[row][col], T = ROW_TOP[row], B = ROW_BOTTOM[row];
  const g = svg.append("g");
  const xd = paddedLogDomain(p.xs);
  const x = d3.scaleLog().domain(xd).range([L, R]);
  const y = d3.scaleLinear().domain(p.yd).range([B, T]);

  const clipId = "clip" + i;
  g.append("clipPath").attr("id", clipId).append("rect")
    .attr("x", L).attr("y", T).attr("width", R - L).attr("height", B - T);
  const plot = g.append("g").attr("clip-path", `url(#${clipId})`);

  const series = [
    {mean: p.c, std: p.cs, color: "#000000", band: 0.11},
    {mean: p.n, std: p.ns, color: "#ff0000", band: 0.12}
  ];
  series.forEach(s => {
    const pts = p.xs.map((xv, j) => ({x: xv, m: s.mean[j], s: s.std[j]}));
    plot.append("path").datum(pts)
      .attr("d", d3.area().x(d => x(d.x)).y0(d => y(d.m - d.s)).y1(d => y(d.m + d.s)))
      .attr("fill", s.color).attr("fill-opacity", s.band).attr("stroke", "none");
  });
  series.forEach(s => {
    const pts = p.xs.map((xv, j) => ({x: xv, m: s.mean[j]}));
    plot.append("path").datum(pts)
      .attr("d", d3.line().x(d => x(d.x)).y(d => y(d.m)))
      .attr("fill", "none").attr("stroke", s.color).attr("stroke-width", 1)
      .attr("stroke-linejoin", "round");
  });

  // frame
  g.append("rect").attr("x", L + 0.5).attr("y", T + 0.5).attr("width", R - L - 1).attr("height", B - T - 1)
    .attr("fill", "none").attr("stroke", SPINE).attr("stroke-width", 1);

  // x ticks
  const numdec = Math.log10(xd[1] / xd[0]);
  logTicks(xd).forEach(t => {
    const xp = x(t.v);
    const major = t.m === 1;
    g.append("line").attr("x1", xp).attr("x2", xp).attr("y1", B).attr("y2", B + (major ? 3.5 : 2))
      .attr("stroke", SPINE).attr("stroke-width", major ? 0.9 : 0.7);
    const labelled = major || (p.minorLabels && numdec <= 1 && p.minorLabels.includes(t.m));
    if (labelled) {
      const tx = g.append("text").attr("x", xp).attr("y", B + 12).attr("text-anchor", "middle")
        .attr("font-family", FONT).attr("font-size", TICK_FS).attr("fill", TXT);
      sciLabel(tx, t.m, t.k, TICK_FS);
    }
  });

  // y ticks
  p.yt.forEach(v => {
    const yp = y(v);
    g.append("line").attr("x1", L - 3.5).attr("x2", L).attr("y1", yp).attr("y2", yp)
      .attr("stroke", SPINE).attr("stroke-width", 0.9);
    g.append("text").attr("x", L - 5).attr("y", yp + 3.1).attr("text-anchor", "end")
      .attr("font-family", FONT).attr("font-size", TICK_FS).attr("fill", TXT)
      .text(v.toFixed(p.dg));
  });

  // axis titles
  g.append("text").attr("x", (L + R) / 2).attr("y", B + 21).attr("text-anchor", "middle")
    .attr("font-family", FONT).attr("font-size", 8.2).attr("fill", TXT).text(p.xl);
  g.append("text").attr("transform", `translate(${YLABEL_X[col]},${(T + B) / 2}) rotate(-90)`)
    .attr("text-anchor", "middle").attr("dy", "0.35em")
    .attr("font-family", FONT).attr("font-size", 8.2).attr("fill", TXT).text("Test Error");

  // legend
  const LW = 67, LH = 26, PAD = 4.5;
  let lx, ly;
  if (p.lg === "ll") { lx = L + PAD; ly = B - PAD - LH; }
  else if (p.lg === "ul") { lx = L + PAD; ly = T + PAD; }
  else if (p.lg === "ur") { lx = R - PAD - LW; ly = T + PAD; }
  else { lx = R - PAD - LW; ly = (T + B) / 2 - LH / 2; }
  const lg = g.append("g").attr("transform", `translate(${lx},${ly})`);
  lg.append("rect").attr("width", LW).attr("height", LH).attr("rx", 2)
    .attr("fill", "#fff").attr("fill-opacity", 0.8).attr("stroke", "#d0d0d0").attr("stroke-width", 0.8);
  ["#000000", "#ff0000"].forEach((col2, j) => {
    const cy = 7 + j * 11.5;
    lg.append("line").attr("x1", 4).attr("x2", 20.5).attr("y1", cy).attr("y2", cy)
      .attr("stroke", col2).attr("stroke-width", 1.1);
    lg.append("text").attr("x", 27.5).attr("y", cy + 3).attr("font-family", FONT)
      .attr("font-size", TICK_FS).attr("fill", TXT).text(LEGEND_LABELS[j]);
  });

  // caption
  svg.append("text").attr("x", CAPTION_X[col]).attr("y", CAPTION_Y[row]).attr("text-anchor", "middle")
    .attr("font-family", "Liberation Serif, Times New Roman, serif").attr("font-size", 23.5)
    .attr("fill", "#000").text(p.cap);
});
</script>
</body></html>
